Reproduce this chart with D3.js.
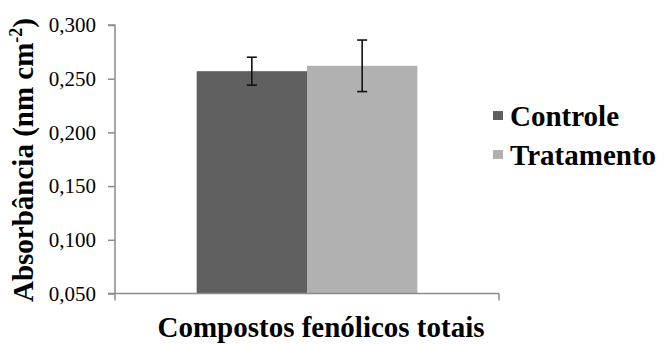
<!DOCTYPE html>
<html>
<head>
<meta charset="utf-8">
<script src="https://cdn.jsdelivr.net/npm/d3@7"></script>
</head>
<body style="margin:0">
<div id="chartDiv"></div>
<script>
var categories = ["Compostos fenólicos totais"];
var seriesNames = ["Controle", "Tratamento"];
var seriesValues = [0.257, 0.262];
var seriesErrors = [0.013, 0.024];
var yTicks = [0.05, 0.10, 0.15, 0.20, 0.25, 0.30];

;(function() {

	var width = 664;
	var height = 344;
	var margin = { top: 25, right: 165, bottom: 50.5, left: 115 };
	var colors = ["#606060", "#b1b1b1"];
	var axisColor = "#8c8c8c";
	var serif = "Times New Roman";

	var chartWidth = width - margin.left - margin.right;
	var chartHeight = height - margin.top - margin.bottom;

	var fmt = function(v) { return d3.format(".3f")(v).replace(".", ","); };

	var svg = d3.select("#chartDiv").append("svg")
		.attr("width", width)
		.attr("height", height)
		.attr("font-family", serif);

	var plot = svg.append("g")
		.attr("transform", "translate(" + margin.left + "," + margin.top + ")");

	var y = d3.scaleLinear()
		.domain([0.05, 0.30])
		.range([chartHeight, 0]);

	var x0 = d3.scaleBand()
		.domain(categories)
		.range([0, chartWidth])
		.paddingInner(0)
		.paddingOuter(0.37);

	var x1 = d3.scaleBand()
		.domain(seriesNames)
		.range([0, x0.bandwidth()]);

	var rows = [];
	categories.forEach(function(c) {
		seriesNames.forEach(function(s, i) {
			rows.push({ cat: c, name: s, value: seriesValues[i], err: seriesErrors[i], color: colors[i] });
		});
	});

	// bars
	plot.selectAll(".bar")
		.data(rows)
		.enter().append("rect")
			.attr("class", "bar")
			.attr("x", function(d) { return x0(d.cat) + x1(d.name); })
			.attr("y", function(d) { return y(d.value); })
			.attr("width", x1.bandwidth())
			.attr("height", function(d) { return chartHeight - y(d.value); })
			.attr("fill", function(d) { return d.color; });

	// error bars
	var capW = 5;
	var eb = plot.selectAll(".err")
		.data(rows)
		.enter().append("g")
			.attr("class", "err")
			.attr("stroke", "#111")
			.attr("stroke-width", 1.6);
	eb.append("line")
		.attr("x1", function(d) { return x0(d.cat) + x1(d.name) + x1.bandwidth() / 2; })
		.attr("x2", function(d) { return x0(d.cat) + x1(d.name) + x1.bandwidth() / 2; })
		.attr("y1", function(d) { return y(d.value + d.err); })
		.attr("y2", function(d) { return y(d.value - d.err); });
	[1, -1].forEach(function(sign) {
		eb.append("line")
			.attr("x1", function(d) { return x0(d.cat) + x1(d.name) + x1.bandwidth() / 2 - capW; })
			.attr("x2", function(d) { return x0(d.cat) + x1(d.name) + x1.bandwidth() / 2 + capW; })
			.attr("y1", function(d) { return y(d.value + sign * d.err); })
			.attr("y2", function(d) { return y(d.value + sign * d.err); });
	});

	// y axis
	var yAxis = plot.append("g")
		.call(d3.axisLeft(y).tickValues(yTicks).tickSize(7).tickPadding(12).tickFormat(fmt));
	yAxis.attr("font-family", serif).attr("font-size", 21);
	yAxis.selectAll("path, line").attr("stroke", axisColor).attr("stroke-width", 1.5);
	yAxis.select(".domain").attr("d", "M-7," + y(0.30) + "H0V" + y(0.05));
	yAxis.selectAll("text").attr("fill", "#000");

	// x axis
	var xAxis = plot.append("g")
		.attr("transform", "translate(0," + chartHeight + ")")
		.call(d3.axisBottom(x0).tickSize(0).tickFormat(""));
	xAxis.attr("font-family", serif);
	xAxis.selectAll(".tick").remove();
	xAxis.select(".domain").attr("stroke", axisColor).attr("stroke-width", 1.5)
		.attr("d", "M-7,0H" + x0.range()[1]);
	xAxis.selectAll(".bound")
		.data(x0.range())
		.enter().append("line")
			.attr("class", "bound")
			.attr("x1", function(d) { return d; })
			.attr("x2", function(d) { return d; })
			.attr("y1", 0)
			.attr("y2", 7)
			.attr("stroke", axisColor)
			.attr("stroke-width", 1.5);

	// x axis title
	svg.append("text")
		.attr("x", margin.left + chartWidth / 2 + 14)
		.attr("y", 337)
		.attr("text-anchor", "middle")
		.attr("font-family", serif)
		.attr("font-size", 29)
		.attr("font-weight", "bold")
		.text(categories[0]);

	// y axis title
	var yt = svg.append("text")
		.attr("text-anchor", "middle")
		.attr("transform", "translate(33,160) rotate(-90)")
		.attr("font-family", serif)
		.attr("font-size", 29)
		.attr("font-weight", "bold");
	yt.append("tspan").text("Absorbância (nm cm");
	yt.append("tspan").attr("dy", -11).attr("font-size", 18).text("-2");
	yt.append("tspan").attr("dy", 11).text(")");

	// legend
	var legend = svg.selectAll(".legend")
		.data(seriesNames)
		.enter().append("g")
			.attr("class", "legend")
			.attr("transform", function(d, i) { return "translate(493," + (111 + i * 39) + ")"; });
	legend.append("rect")
		.attr("width", 10)
		.attr("height", 9)
		.attr("fill", function(d, i) { return colors[i]; });
	legend.append("text")
		.attr("x", 17)
		.attr("y", 15)
		.attr("font-family", serif)
		.attr("font-size", 29)
		.attr("font-weight", "bold")
		.text(function(d) { return d; });

})();
</script>
</body>
</html>
